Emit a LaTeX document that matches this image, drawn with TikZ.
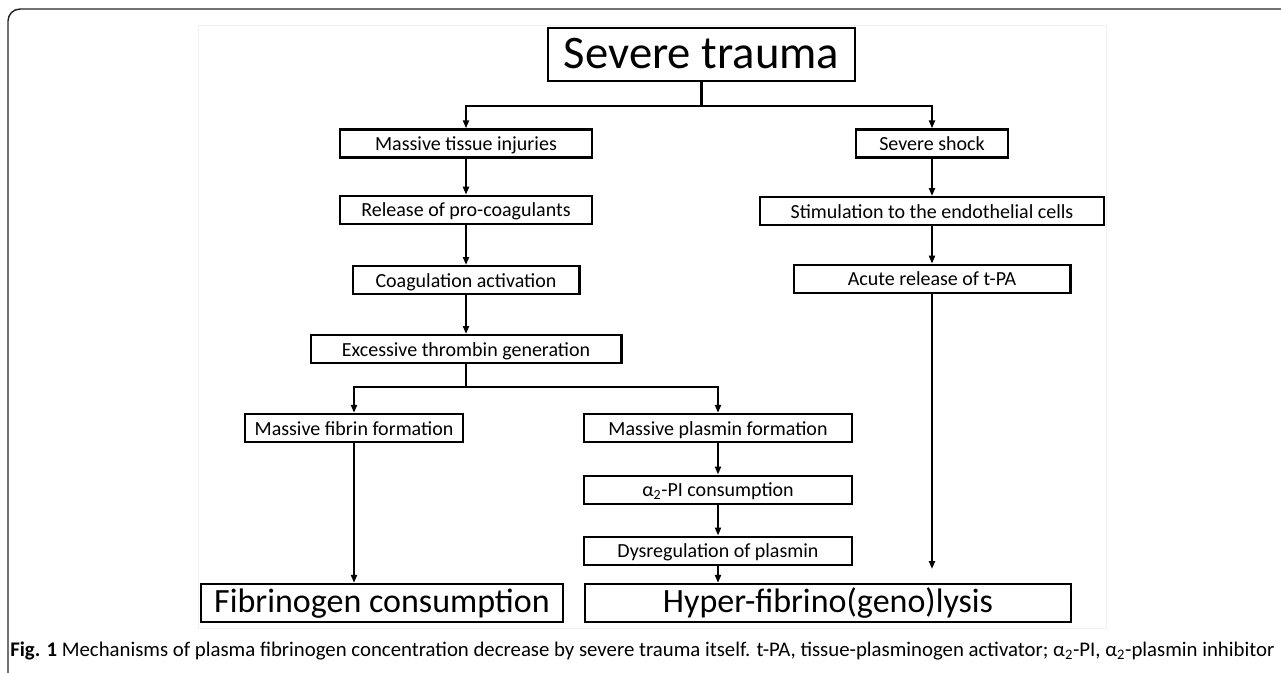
\documentclass[tikz,border=0pt]{standalone}
\usepackage{fontspec}
\setmainfont{Carlito}
\usetikzlibrary{positioning,arrows.meta}

\tikzset{
  blk/.style={draw, line width=1.75pt, minimum height=21pt, inner sep=2pt,
    text height=12.5pt, text depth=2pt, font=\fontsize{15}{18}\selectfont},
  bigblk/.style={draw, line width=1.75pt, inner sep=2pt, minimum height=28.5pt,
    text height=19.5pt, text depth=5pt, font=\fontsize{25.5}{30}\selectfont},
  conn/.style={line width=1.75pt},
  arr/.style={conn, -{Triangle[length=6pt,width=4.5pt]}},
}

\begin{document}
\begin{tikzpicture}[x=0.75pt,y=-0.75pt,node distance=28pt]
  \useasboundingbox (0,0) rectangle (1281,672);
  % outer frame
  \draw[black!85, line width=1.1pt, rounded corners=9pt] (8,9) rectangle (1320,720);
  \draw[black!6] (198,25) rectangle (1106,628);

  \node[bigblk, minimum width=230pt, minimum height=39.7pt, text height=28pt, text depth=7pt,
    font=\fontsize{35}{40}\selectfont] (trauma) at (701.5,54.5) {Severe trauma};

  % left branch
  \node[blk, minimum width=189pt] (tissue) at (466,143.5) {Massive tissue injuries};
  \node[blk, minimum width=189pt, below=27pt of tissue] (release) {Release of pro-coagulants};
  \node[blk, minimum width=170pt, below=30pt of release] (coag) {Coagulation activation};
  \node[blk, minimum width=233pt, below=29pt of coag] (thrombin) {Excessive thrombin generation};

  % right branch
  \node[blk, minimum width=114pt] (shock) at (932,143.5) {Severe shock};
  \node[blk, minimum width=258pt, below=of shock] (stim) {Stimulation to the endothelial cells};
  \node[blk, minimum width=207.5pt, below=of stim] (acute) {Acute release of t-PA};

  % lower part
  \node[blk, minimum width=163.5pt] (fibrin) at (354,428) {Massive fibrin formation};
  \node[blk, minimum width=201pt] (plasmin) at (718,428) {Massive plasmin formation};
  \node[blk, minimum width=201pt, below=23.5pt of plasmin] (alpha) {α\textsubscript{2}-PI consumption};
  \node[blk, minimum width=201pt, below=23pt of alpha] (dysreg) {Dysregulation of plasmin};

  \node[bigblk, minimum width=271.5pt] (fibrinogen) at (382,603) {Fibrinogen consumption};
  \node[bigblk, minimum width=364.5pt] (hyper) at (828,603) {Hyper-fibrino(geno)lysis};

  \coordinate (fork1) at (701.5,106);
  \coordinate (fork2) at (466,387);
  \coordinate (tpaend) at (932,569);

  \draw[conn] (trauma) -- (fork1);
  \draw[arr] (fork1) -| (tissue);
  \draw[arr] (fork1) -| (shock);
  \draw[arr] (tissue) -- (release);
  \draw[arr] (release) -- (coag);
  \draw[arr] (coag) -- (thrombin);
  \draw[arr] (shock) -- (stim);
  \draw[arr] (stim) -- (acute);
  \draw[arr] (acute) -- (tpaend);
  \draw[conn] (thrombin) -- (fork2);
  \draw[arr] (fork2) -| (fibrin);
  \draw[arr] (fork2) -| (plasmin);
  \draw[arr] (fibrin) -- (fibrin |- fibrinogen.north);
  \draw[arr] (plasmin) -- (alpha);
  \draw[arr] (alpha) -- (dysreg);
  \draw[arr] (dysreg) -- (dysreg |- hyper.north);

  % caption
  \node[anchor=west, inner sep=0pt, font=\fontsize{15.6}{18}\selectfont] (caption) at (10,651)
    {\textbf{Fig. 1} Mechanisms of plasma fibrinogen concentration decrease by severe trauma itself. t-PA, tissue-plasminogen activator; α\textsubscript{2}-PI, α\textsubscript{2}-plasmin inhibitor};
\end{tikzpicture}
\end{document}
